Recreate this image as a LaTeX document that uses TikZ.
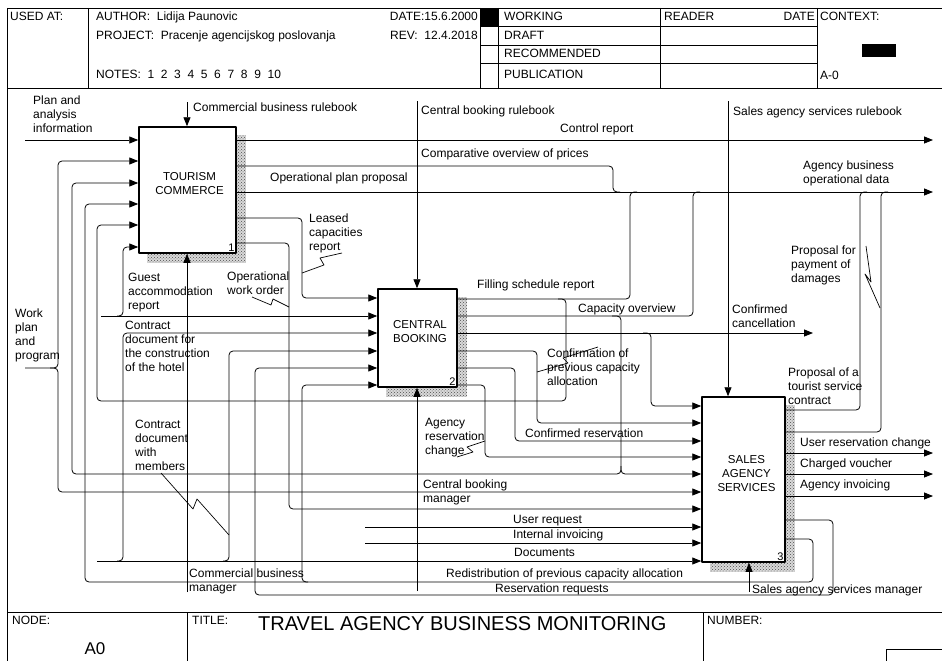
\documentclass[tikz,border=0pt]{standalone}
\usepackage{fontspec}
\setmainfont{Liberation Sans}
\usepackage{tikz}
\usetikzlibrary{arrows.meta,patterns,backgrounds}

\begin{document}
\begin{tikzpicture}[x=1pt, y=-1pt,
    line join=round,
    frame/.style={draw, line width=0.8pt},
    fn/.style={draw, line width=1.5pt, fill=white, inner sep=0pt},
    fnname/.style={font=\fontsize{11.5}{14}\selectfont, align=center, anchor=base, inner sep=0pt},
    fnnum/.style={font=\fontsize{11}{13}\selectfont, anchor=south east, inner sep=2pt},
    flow/.style={draw, line width=0.8pt, rounded corners=4pt},
    arr/.style={flow, -{Triangle[length=9pt,width=7pt]}},
    squig/.style={draw, line width=0.7pt},
    lbl/.style={font=\fontsize{12}{14}\selectfont, align=left, anchor=base west, inner sep=0pt},
    hdr/.style={font=\fontsize{12}{14}\selectfont, anchor=base west, inner sep=0pt},
]
\useasboundingbox (0,0) rectangle (942,661);

% Header block
\draw[frame] (7,8) -- (942,8);
\draw[frame] (7,88) -- (942,88);
\draw[frame] (7,8) -- (7,661);
\draw[frame] (88,8) -- (88,88);
\draw[frame] (480,8) -- (480,88);
\draw[frame] (498,8) -- (498,88);
\draw[frame] (660,8) -- (660,88);
\draw[frame] (817,8) -- (817,88);
\draw[frame] (480,26) -- (817,26);
\draw[frame] (480,45) -- (817,45);
\draw[frame] (480,63) -- (817,63);
\fill (480,8) rectangle (498,26);
\fill (862,44) rectangle (896,57);

\node[hdr] (usedat) at (10,21) {USED AT:};
\node[hdr] (author) at (96,21) {AUTHOR:~~Lidija Paunovic};
\node[hdr] (project) at (96,40) {PROJECT:~~Pracenje agencijskog poslovanja};
\node[hdr] (notes) at (96,78) {NOTES:~~1~~2~~3~~4~~5~~6~~7~~8~~9~~10};
\node[hdr, anchor=base east] (date) at (478,21) {DATE:15.6.2000};
\node[hdr, anchor=base east] (rev) at (478,40) {REV:~~12.4.2018};
\node[hdr] (working) at (504,21) {WORKING};
\node[hdr] (draft) at (504,40) {DRAFT};
\node[hdr] (recom) at (504,58) {RECOMMENDED};
\node[hdr] (publ) at (504,78) {PUBLICATION};
\node[hdr] (reader) at (664,21) {READER};
\node[hdr, anchor=base east] (rdate) at (815,21) {DATE};
\node[hdr] (context) at (820,21) {CONTEXT:};
\node[hdr] (aref) at (820,80) {A-0};

% Title block
\draw[frame] (7,612) -- (942,612);
\draw[frame] (187,612) -- (187,661);
\draw[frame] (703,612) -- (703,661);
\draw[frame] (886,661) |- (942,649);
\node[hdr] (nodelbl) at (12,624) {NODE:};
\node[font=\fontsize{17}{20}\selectfont, anchor=base, inner sep=0pt] (nodeid) at (95,654) {A0};
\node[hdr] (titlelbl) at (192,624) {TITLE:};
\node[font=\fontsize{20}{24}\selectfont, anchor=base west, inner sep=0pt] (title) at (258,630) {TRAVEL AGENCY BUSINESS MONITORING};
\node[hdr] (numlbl) at (707,624) {NUMBER:};

% Activity boxes
\node[fn, minimum width=97pt, minimum height=126pt] (tc) at (187.5,190) {};
\node[fn, minimum width=79pt, minimum height=98pt] (cb) at (417.5,338) {};
\node[fn, minimum width=83pt, minimum height=165pt] (sa) at (743.5,479.5) {};
\node[fnname] (tc_name) at (189.5,194) {TOURISM\\COMMERCE};
\node[fnname] (cb_name) at (420,342) {CENTRAL\\BOOKING};
\node[fnname] (sa_name) at (746.5,491) {SALES\\AGENCY\\SERVICES};
\node[fnnum] (tc_num) at (tc.south east) {1};
\node[fnnum] (cb_num) at (cb.south east) {2};
\node[fnnum] (sa_num) at (sa.south east) {3};

% Box shadows
\begin{scope}[on background layer]
\fill[gray!30] ([shift={(9,9)}]tc.south west) rectangle ([shift={(9,9)}]tc.north east);
\fill[pattern=crosshatch dots, pattern color=black!70] ([shift={(9,9)}]tc.south west) rectangle ([shift={(9,9)}]tc.north east);
\fill[gray!30] ([shift={(9,9)}]cb.south west) rectangle ([shift={(9,9)}]cb.north east);
\fill[pattern=crosshatch dots, pattern color=black!70] ([shift={(9,9)}]cb.south west) rectangle ([shift={(9,9)}]cb.north east);
\fill[gray!30] ([shift={(9,9)}]sa.south west) rectangle ([shift={(9,9)}]sa.north east);
\fill[pattern=crosshatch dots, pattern color=black!70] ([shift={(9,9)}]sa.south west) rectangle ([shift={(9,9)}]sa.north east);
\end{scope}

% Controls and mechanisms
\coordinate (ctl_tc) at (187,102);
\draw[arr] (ctl_tc) -- (ctl_tc |- tc.north);
\coordinate (ctl_cb) at (417,101);
\draw[arr] (ctl_cb) -- (ctl_cb |- cb.north);
\coordinate (ctl_sa) at (728,101);
\draw[arr] (ctl_sa) -- (ctl_sa |- sa.north);
\coordinate (mech_tc) at (187,592);
\draw[arr] (mech_tc) -- (mech_tc |- tc.south);
\coordinate (mech_cb) at (417,591);
\draw[arr] (mech_cb) -- (mech_cb |- cb.south);
\coordinate (mech_sa) at (749,592);
\draw[arr] (mech_sa) -- (mech_sa |- sa.south);

% Boundary inputs
\coordinate (plan_in) at (25,140);
\draw[arr] (plan_in) -- (plan_in -| tc.west);
\coordinate (work_in) at (25,368);
\draw[arr] (work_in) -| (58,161) -- (tc.west |- 0,161);
\draw[arr] (50,368) -| (58,492) -- (sa.west |- 0,492);
\coordinate (guest_in) at (101,316);
\draw[arr] (guest_in) -- (cb.west |- guest_in);
\draw[arr] (117,316) -| (123,247) -- (tc.west |- 0,247);
\coordinate (docs_in) at (97,561);
\draw[arr] (docs_in) -- (sa.west |- docs_in);
\draw[arr] (117,561) -| (123,333) -- (cb.west |- 0,333);
\draw[arr] (223,561) -| (229,351) -- (cb.west |- 0,351);
\coordinate (user_in) at (365,527);
\draw[arr] (user_in) -- (sa.west |- user_in);
\coordinate (invo_in) at (365,543);
\draw[arr] (invo_in) -- (sa.west |- invo_in);

% Box 1 outputs
\coordinate (ctrl_out) at (933,140);
\draw[arr] (tc.east |- ctrl_out) -- (ctrl_out);
\coordinate (agency_out) at (933,192);
\draw[arr] (tc.east |- agency_out) -- (agency_out);
\draw[flow] (tc.east |- 0,166) -| (613,192) -- (620,192);
\draw[arr] (tc.east |- 0,218) -| (302,298) -- (cb.west |- 0,298);
\draw[arr] (tc.east |- 0,243) -| (289,509) -- (sa.west |- 0,509);

% Box 2 outputs
\draw[flow] (cb.east |- 0,299) -| (630,192) -- (637,192);
\draw[arr] (558,299) -| (566,401) -| (97,225) -- (tc.west |- 0,225);
\draw[flow] (cb.east |- 0,316) -| (693,192) -- (700,192);
\draw[arr] (612,316) -| (621,474) -| (72,183) -- (tc.west |- 0,183);
\draw[arr] (621,466) |- (sa.west |- 0,474);
\coordinate (canc_out) at (813,333);
\draw[arr] (cb.east |- canc_out) -- (canc_out);
\draw[arr] (643,333) -| (651,406) -- (sa.west |- 0,406);
\draw[arr] (cb.east |- 0,351) -| (537,423) -- (sa.west |- 0,423);
\draw[arr] (cb.east |- 0,368) -| (515,441) -- (sa.west |- 0,441);
\draw[arr] (cb.east |- 0,385) -| (485,457) -- (sa.west |- 0,457);

% Box 3 outputs
\draw[arr] (sa.east |- 0,520) -| (833,595) -| (255,368) -- (cb.west |- 0,368);
\draw[arr] (sa.east |- 0,539) -| (813,582) -| (85,204) -- (tc.west |- 0,204);
\draw[arr] (308,582) -| (302,385) -- (cb.west |- 0,385);
\draw[flow] (sa.east |- 0,410) -| (860,192) -- (867,192);
\draw[flow] (sa.east |- 0,432) -| (881,192) -- (888,192);
\coordinate (urc_out) at (933,453);
\draw[arr] (sa.east |- urc_out) -- (urc_out);
\coordinate (vouch_out) at (933,474);
\draw[arr] (sa.east |- vouch_out) -- (vouch_out);
\coordinate (invc_out) at (933,496);
\draw[arr] (sa.east |- invc_out) -- (invc_out);

% Squiggle leaders
\draw[squig] (302,273) -- (324,265) -- (320,258) -- (342,253);
\draw[squig] (252,297) -- (271,305) -- (273,299) -- (289,307);
\draw[squig] (537,372) -- (568,363) -- (563,358) -- (598,347);
\draw[squig] (485,441) -- (467,447) -- (473,452) -- (457,457);
\draw[squig] (161,473) -- (193,509) -- (197,499) -- (229,535);
\draw[squig] (866,246) -- (871,282) -- (865,274) -- (880,308);

% Arrow labels (base = last line)
\node[lbl] (plan_lbl) at (33,132) {Plan and\\analysis\\information};
\node[lbl] (ctl_tc_lbl) at (193,111) {Commercial business rulebook};
\node[lbl] (ctl_cb_lbl) at (421,114) {Central booking rulebook};
\node[lbl] (ctl_sa_lbl) at (733,115) {Sales agency services rulebook};
\node[lbl] (ctrl_lbl) at (560,132) {Control report};
\node[lbl] (comp_lbl) at (421,157) {Comparative overview of prices};
\node[lbl] (oper_lbl) at (270,181) {Operational plan proposal};
\node[lbl] (agency_lbl) at (803,183) {Agency business\\operational data};
\node[lbl] (leased_lbl) at (309,250) {Leased\\capacities\\report};
\node[lbl] (guest_lbl) at (128,309) {Guest\\accommodation\\report};
\node[lbl] (order_lbl) at (227,294) {Operational\\work order};
\node[lbl] (fill_lbl) at (477,288) {Filling schedule report};
\node[lbl] (cap_lbl) at (578,312) {Capacity overview};
\node[lbl] (canc_lbl) at (732,327) {Confirmed\\cancellation};
\node[lbl] (dam_lbl) at (791,282) {Proposal for\\payment of\\damages};
\node[lbl] (work_lbl) at (15,359) {Work\\plan\\and\\program};
\node[lbl] (hotel_lbl) at (125,371) {Contract\\document for\\the construction\\of the hotel};
\node[lbl] (conf_lbl) at (547,385) {Confirmation of\\previous capacity\\allocation};
\node[lbl] (tour_lbl) at (788,404) {Proposal of a\\tourist service\\contract};
\node[lbl] (arc_lbl) at (425,454) {Agency\\reservation\\change};
\node[lbl] (cres_lbl) at (525,437) {Confirmed reservation};
\node[lbl] (urc_lbl) at (800,446) {User reservation change};
\node[lbl] (vouch_lbl) at (800,467) {Charged voucher};
\node[lbl] (invc_lbl) at (800,488) {Agency invoicing};
\node[lbl] (memb_lbl) at (135,470) {Contract\\document\\with\\members};
\node[lbl] (mech_cb_lbl) at (423,502) {Central booking\\manager};
\node[lbl] (user_lbl) at (513,523) {User request};
\node[lbl] (invo_lbl) at (513,538) {Internal invoicing};
\node[lbl] (docs_lbl) at (514,556) {Documents};
\node[lbl] (redis_lbl) at (446,577) {Redistribution of previous capacity allocation};
\node[lbl] (resreq_lbl) at (495,592) {Reservation requests};
\node[lbl] (mech_tc_lbl) at (189,591) {Commercial business\\manager};
\node[lbl] (mech_sa_lbl) at (752,593) {Sales agency services manager};

\end{tikzpicture}
\end{document}
